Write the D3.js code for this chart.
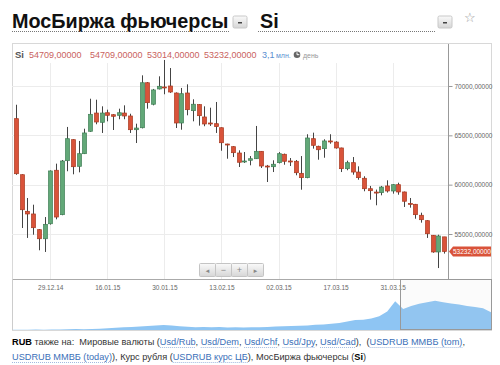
<!DOCTYPE html>
<html><head><meta charset="utf-8">
<script src="https://cdn.jsdelivr.net/npm/d3@7"></script>
<style>body{margin:0;background:#fff}svg{display:block;font-family:Arial,"Liberation Sans",sans-serif}</style>
</head><body><svg id="c" width="500" height="365"></svg>
<script>
const dates = ["19.12.14","22.12.14","23.12.14","24.12.14","25.12.14","26.12.14","29.12.14","30.12.14","05.01.15","06.01.15",
"08.01.15","09.01.15","12.01.15","13.01.15","14.01.15","15.01.15","16.01.15","19.01.15","20.01.15","21.01.15",
"22.01.15","23.01.15","26.01.15","27.01.15","28.01.15","29.01.15","30.01.15","02.02.15","03.02.15","04.02.15",
"05.02.15","06.02.15","09.02.15","10.02.15","11.02.15","12.02.15","13.02.15","16.02.15","17.02.15","18.02.15",
"19.02.15","20.02.15","24.02.15","25.02.15","26.02.15","27.02.15","02.03.15","03.03.15","04.03.15","05.03.15",
"06.03.15","10.03.15","11.03.15","12.03.15","13.03.15","16.03.15","17.03.15","18.03.15","19.03.15","20.03.15",
"23.03.15","24.03.15","25.03.15","26.03.15","27.03.15","30.03.15","31.03.15","01.04.15","02.04.15","03.04.15",
"06.04.15","07.04.15","08.04.15","09.04.15","10.04.15","13.04.15"];
const open  = [66690,61010,57300,57030,55440,54520,56040,61460,56960,62430,64560,61860,63140,65410,67260,66320,67290,67090,67030,67260,
66960,65570,65770,70330,68150,69700,69900,70000,69290,66250,69290,67500,68110,66860,66250,66180,65770,64120,63850,63210,
62350,62470,62630,63380,61890,61820,62230,63080,62400,62370,61150,60710,64660,63890,63650,64430,64320,63720,61620,62230,
61280,60650,59590,59250,59190,59870,59360,60000,59260,58100,58010,56900,56350,54870,53180,54709];
const high  = [68100,61050,58650,57970,55500,56720,61450,62130,62500,65850,64600,64430,65670,68710,68610,67940,67600,67150,67700,68040,
67190,66180,71080,70400,69700,70980,72640,71820,69350,69800,70170,68650,68150,67940,67800,68380,65800,64150,63900,63480,
63310,62900,65950,63400,62000,62470,63300,63150,62700,62500,62900,65110,65270,63950,64600,65110,64400,63750,62430,62800,
61860,60850,59870,59500,59870,60440,60050,60200,59300,58650,58050,57160,56400,54900,54930,54709];
const low   = [61000,55610,54600,54930,53350,53180,55950,56490,56900,61360,61050,61250,63100,65350,66120,65240,66420,65540,66630,66630,
65240,64220,65700,67700,68040,69650,69160,69300,65740,65570,67030,66420,65980,65920,65950,65240,63440,62630,62800,61790,
62200,61960,62600,61690,60270,61280,62150,62020,61890,60950,59490,60650,63650,62530,62730,64150,63650,61280,61460,61010,
60500,59330,58480,57910,58920,59200,59090,58980,57740,57670,56550,56150,54600,53100,51550,53014];
const close = [61110,57460,57030,55640,54520,55980,61390,56720,62400,64660,61820,63140,65240,67130,66350,67260,67030,66930,67290,66960,
65570,65740,70330,68310,69600,69970,69870,69390,66250,69220,67600,68150,66990,66150,66200,65880,64250,64050,63240,62270,
62400,62630,63380,61890,61850,62070,63140,62370,62370,61210,60710,64730,63990,63540,64430,64400,63720,61620,62230,61280,
60710,59590,59390,59220,59760,59360,60000,59260,58320,58070,56960,56450,55030,53180,54800,53232];
const yTicks = [55000,60000,65000,70000];
const xTickLabels = ["29.12.14","16.01.15","30.01.15","13.02.15","02.03.15","17.03.15","31.03.15"];
const navValues = [30400,30500,30300,30600,30500,30800,30700,31000,31200,31000,31500,31800,32500,33200,33800,34000,34800,35500,36200,36800,
36000,35200,34500,33800,34200,33600,33900,33400,33700,33500,33800,33600,34200,34600,35000,35400,35600,36200,37000,37600,
38500,39500,41500,43500,44000,45500,48500,55000,69000,58500,62500,65500,67500,69500,67500,66000,64500,62500,61000,59500,54000];
const header = {sym:"Si", vals:["54709,00000","54709,00000","53014,00000","53232,00000"], vol:"3,1 млн.", per:"день"};

const svg = d3.select("#c");
const fmt = v => d3.format("d")(v) + ",00000";

// Title
svg.append("text").attr("x",12).attr("y",28).attr("font-size",19.8).attr("font-weight","bold").attr("fill","#111").text("МосБиржа фьючерсы");
svg.append("line").attr("x1",12).attr("x2",229).attr("y1",31.5).attr("y2",31.5).attr("stroke","#777").attr("stroke-dasharray","1,1");
svg.append("text").attr("x",260).attr("y",28).attr("font-size",19.8).attr("font-weight","bold").attr("fill","#111").text("Si");
svg.append("line").attr("x1",258).attr("x2",435).attr("y1",31.5).attr("y2",31.5).attr("stroke","#777").attr("stroke-dasharray","1,1");
const grad = svg.append("defs").append("linearGradient").attr("id","bg").attr("x1",0).attr("x2",0).attr("y1",0).attr("y2",1);
grad.append("stop").attr("offset","0").attr("stop-color","#fafafa");
grad.append("stop").attr("offset","1").attr("stop-color","#d6d6d6");
[[233,16],[438,16]].forEach(([x,y])=>{
  svg.append("rect").attr("x",x).attr("y",y).attr("width",14).attr("height",12).attr("rx",1.5).attr("fill","url(#bg)").attr("stroke","#c8c8c8");
  svg.append("rect").attr("x",x+5).attr("y",y+6).attr("width",4).attr("height",1.5).attr("fill","#444");
});
svg.append("text").attr("x",470).attr("y",22).attr("font-size",13).attr("fill","#999").attr("text-anchor","middle").text("☆");

// Chart box
const L=12, R=448, T=63, B=279, RR=491;
svg.append("rect").attr("x",L+0.5).attr("y",43.5).attr("width",RR-L).attr("height",330-43).attr("fill","#fff").attr("stroke","#d8d8d8");

const x = d3.scalePoint().domain(dates).range([16,444]);
const y = d3.scaleLinear().domain([50440,72330]).range([B,T]);

const g = svg.append("g");
g.selectAll(".hg").data(yTicks).enter().append("line")
  .attr("x1",L).attr("x2",R).attr("y1",d=>Math.round(y(d))+0.5).attr("y2",d=>Math.round(y(d))+0.5).attr("stroke","#ececec");
g.selectAll(".vg").data(xTickLabels).enter().append("line")
  .attr("x1",d=>Math.round(x(d))+0.5).attr("x2",d=>Math.round(x(d))+0.5).attr("y1",T).attr("y2",B).attr("stroke","#ececec");

// header
const hy = 58;
svg.append("text").attr("x",15).attr("y",hy).attr("font-size",9.5).attr("font-weight","bold").attr("fill","#555").text(header.sym);
const hx=[29,90,147,204];
header.vals.forEach((v,i)=>svg.append("text").attr("x",hx[i]).attr("y",hy).attr("font-size",9).attr("fill","#c9625e").text(v));
svg.append("text").attr("x",262).attr("y",hy).attr("font-size",9).attr("fill","#5a8fd0").text("3,1");
svg.append("text").attr("x",276).attr("y",hy).attr("font-size",7).attr("fill","#5a8fd0").text("млн.");
svg.append("circle").attr("cx",297).attr("cy",hy-3.3).attr("r",3.3).attr("fill","#666");
svg.append("path").attr("d",`M297,${hy-5.6}V${hy-3.3}H299.3`).attr("stroke","#fff").attr("fill","none").attr("stroke-width",1);
svg.append("text").attr("x",303).attr("y",hy).attr("font-size",7).attr("fill","#999").text(header.per);

// axes
const yAxis = d3.axisRight(y).tickValues(yTicks).tickSize(4).tickFormat(fmt);
const ya = svg.append("g").attr("transform",`translate(${R+0.5},0)`).call(yAxis);
ya.select(".domain").remove();
ya.selectAll("line").attr("stroke","#999");
ya.selectAll("text").attr("font-size",6.5).attr("fill","#666").attr("font-family","Arial,'Liberation Sans',sans-serif").attr("x",6);
svg.append("line").attr("x1",R+0.5).attr("x2",R+0.5).attr("y1",44).attr("y2",B).attr("stroke","#999");

const xAxis = d3.axisBottom(x).tickValues(xTickLabels).tickSize(0).tickPadding(6);
const xa = svg.append("g").attr("transform",`translate(0,${B+0.5})`).call(xAxis);
xa.select(".domain").attr("d",`M${L},0H${R}`).attr("stroke","#aaa");
xa.selectAll("text").attr("font-size",6.5).attr("fill","#666").attr("font-family","Arial,'Liberation Sans',sans-serif");

// candles
const idx = d3.range(dates.length);
const cg = svg.append("g");
cg.selectAll(".w").data(idx).enter().append("line")
  .attr("x1",i=>Math.round(x(dates[i]))+0.5).attr("x2",i=>Math.round(x(dates[i]))+0.5)
  .attr("y1",i=>y(high[i])).attr("y2",i=>y(low[i])).attr("stroke","#444").attr("stroke-width",1);
cg.selectAll(".b").data(idx).enter().append("rect")
  .attr("x",i=>Math.round(x(dates[i]))-1.5).attr("width",4)
  .attr("y",i=>y(Math.max(open[i],close[i])))
  .attr("height",i=>Math.max(1,Math.abs(y(open[i])-y(close[i]))))
  .attr("fill",i=>close[i]>=open[i]?"#62a878":"#d9533a")
  .attr("stroke",i=>close[i]>=open[i]?"#3f7e55":"#a8381f").attr("stroke-width",0.7);

// last price label
const ly = y(close[close.length-1]);
svg.append("path").attr("d",`M${R+1},${ly}L${R+5},${ly-5}H${RR}V${ly+5}H${R+5}Z`).attr("fill","#d9533a");
svg.append("text").attr("x",R+5).attr("y",ly+2.4).attr("font-size",6.5).attr("fill","#fff").text(fmt(close[close.length-1]));

// zoom buttons
const btn = ["◄","−","+","►"];
btn.forEach((s,i)=>{
  const bx = 199 + i*16;
  svg.append("rect").attr("x",bx+0.5).attr("y",263.5).attr("width",16).attr("height",13).attr("fill","url(#bg)").attr("stroke","#c4c4c4").attr("rx",1);
  svg.append("text").attr("x",bx+8.5).attr("y",273).attr("text-anchor","middle").attr("font-size",i===0||i===3?6:9).attr("fill","#888").text(s);
});

// navigator
const nx = d3.scaleLinear().domain([0,navValues.length-1]).range([L,RR]);
const ny = d3.scaleLinear().domain([30000,72000]).range([330,299]);
svg.append("path").datum(navValues).attr("fill","#8ec5f3")
  .attr("d",d3.area().x((d,i)=>nx(i)).y0(330).y1(d=>ny(d)));
svg.append("line").attr("x1",L+0.5).attr("x2",L+0.5).attr("y1",B).attr("y2",330).attr("stroke","#ccc");
svg.append("rect").attr("x",400.5).attr("y",279.5).attr("width",RR-400).attr("height",50).attr("fill","rgba(200,200,200,0.08)").attr("stroke","#999");

// footer
const ft = svg.append("g").attr("font-size",9.2).attr("fill","#333");
const link = "#3a6fb8";
const line1 = [["RUB",0,1],[" также на:  Мировые валюты (",0],["Usd/Rub",1],[", ",0],["Usd/Dem",1],[", ",0],["Usd/Chf",1],[", ",0],["Usd/Jpy",1],[", ",0],["Usd/Cad",1],["),  (",0],["USDRUB ММВБ (tom)",1],[",",0]];
const line2 = [["USDRUB ММВБ (today)",1],["), Курс рубля (",0],["USDRUB курс ЦБ",1],["), МосБиржа фьючерсы (",0],["Si",0,1],[")",0]];
function drawLine(parts, yy){
  const t = ft.append("text").attr("x",12).attr("y",yy).attr("xml:space","preserve");
  parts.forEach(p=>{
    const s = t.append("tspan").text(p[0]);
    if(p[1]) s.attr("fill",link);
    if(p[2]) s.attr("font-weight","bold").attr("fill","#000");
  });
  let cx = 12;
  t.selectAll("tspan").each(function(d,i){
    const w = this.getComputedTextLength();
    if(parts[i][1]) ft.append("line").attr("x1",cx).attr("x2",cx+w).attr("y1",yy+2.5).attr("y2",yy+2.5).attr("stroke","#8aa8d8").attr("stroke-dasharray","1,1").attr("stroke-width",0.8);
    cx += w;
  });
}
drawLine(line1, 345);
drawLine(line2, 360);
</script></body></html>
